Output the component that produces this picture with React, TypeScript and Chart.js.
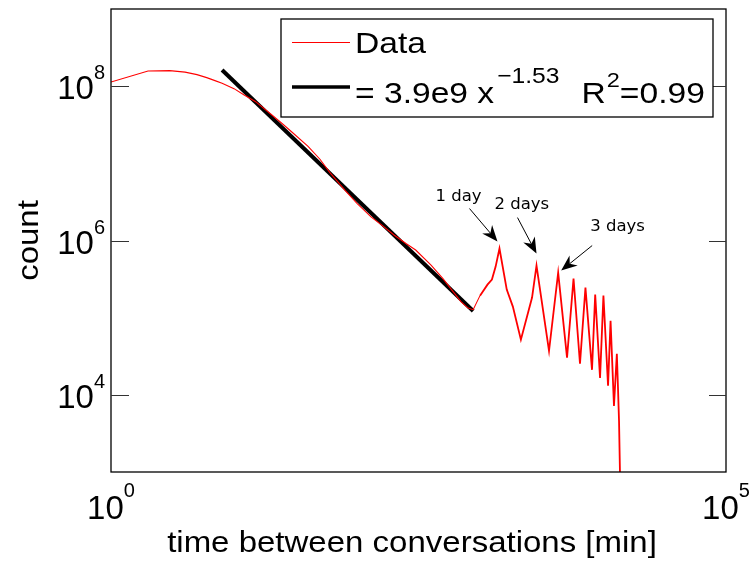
import React, { useEffect, useRef } from "react";
import { Chart, registerables } from "chart.js";

Chart.register(...registerables);

// Inter-conversation time distribution (minutes) and observed counts
const MINUTES = [
  1, 2, 3, 4, 5, 6, 7, 8, 10, 12, 15, 20, 25, 30, 40, 50, 60, 80, 100, 130, 160,
  200, 250, 300, 400, 500, 600, 700, 800, 880, 1000, 1150, 1250, 1340, 1440,
  1650, 1850, 2150, 2650, 2880, 3640, 4320, 5100, 5760, 6500, 7200, 8140, 8640,
  9460, 10080, 10990, 11520, 12280, 12960, 13240, 13500, 14100,
];
const COUNTS = [
  1.13e8, 1.57e8, 1.59e8, 1.52e8, 1.41e8, 1.29e8, 1.18e8, 1.09e8, 9.29e7,
  7.76e7, 6.3e7, 4.33e7, 3.21e7, 2.49e7, 1.66e7, 1.13e7, 7.64e6, 4.46e6,
  3.03e6, 2.02e6, 1.57e6, 1.18e6, 9.14e5, 7.53e5, 4.81e5, 3.21e5, 2.21e5,
  1.61e5, 1.33e5, 1.27e5, 1.93e5, 2.68e5, 3.12e5, 4.59e5, 7.87e5, 2.31e5,
  1.39e5, 5.18e4, 1.82e5, 4.73e5, 3.72e4, 3.84e5, 3.03e4, 3.21e5, 2.53e4,
  2.45e5, 2.11e4, 1.99e5, 1.66e4, 1.93e5, 1.31e4, 9.14e4, 7.19e3, 3.4e4,
  1.23e4, 4.59e3, 100,
];

// Power-law fit: count = FIT_COEF * t^FIT_EXP over FIT_RANGE
const FIT_COEF = 3.9e9;
const FIT_EXP = -1.53;
const FIT_R2 = 0.99;
const FIT_RANGE = [8, 880];

// Axis ticks
const X_TICK_EXPONENTS = [0, 5];
const Y_TICK_EXPONENTS = [4, 6, 8];

// Annotated periodic peaks
const PEAK_LABELS = ["1 day", "2 days", "3 days"];
const PEAK_MINUTES = [1440, 2880, 4320];

const SERIES_LABEL = "Data";
const X_TITLE = "time between conversations [min]";
const Y_TITLE = "count";

const FONT = '"Liberation Sans", Arial, Helvetica, sans-serif';
const NOTE_FONT = '"DejaVu Sans", "Liberation Sans", sans-serif';

// arrow placement per annotation (pixels relative to the peak point)
const ARROW_STYLE = [
  { tip: [-2, -7], tail: [-28, -33], text: [-62, -41] },
  { tip: [0, -12], tail: [-19, -36], text: [-42, -44.5] },
  { tip: [3, -2], tail: [31, -25], text: [29, -39.5] },
];

function drawText(
  ctx: CanvasRenderingContext2D,
  s: string,
  x: number,
  y: number,
  size: number,
  sx = 1,
  align: CanvasTextAlign = "left",
  family = FONT
): number {
  ctx.save();
  ctx.font = `${size}px ${family}`;
  const w = ctx.measureText(s).width * sx;
  let x0 = x;
  if (align === "center") x0 = x - w / 2;
  else if (align === "right") x0 = x - w;
  ctx.translate(x0, y);
  ctx.scale(sx, 1);
  ctx.textAlign = "left";
  ctx.textBaseline = "alphabetic";
  ctx.fillText(s, 0, 0);
  ctx.restore();
  return w;
}

function measure(ctx: CanvasRenderingContext2D, s: string, size: number, sx = 1) {
  ctx.save();
  ctx.font = `${size}px ${FONT}`;
  const w = ctx.measureText(s).width * sx;
  ctx.restore();
  return w;
}

function drawArrow(
  ctx: CanvasRenderingContext2D,
  x0: number,
  y0: number,
  x1: number,
  y1: number
) {
  const dx = x1 - x0;
  const dy = y1 - y0;
  const len = Math.hypot(dx, dy);
  const ux = dx / len;
  const uy = dy / len;
  const px = -uy;
  const py = ux;
  const L = 16;
  const W = 6.5;
  const notch = 11;
  ctx.save();
  ctx.strokeStyle = "#000";
  ctx.fillStyle = "#000";
  ctx.lineWidth = 1;
  ctx.beginPath();
  ctx.moveTo(x0, y0);
  ctx.lineTo(x1 - ux * notch, y1 - uy * notch);
  ctx.stroke();
  ctx.beginPath();
  ctx.moveTo(x1, y1);
  ctx.lineTo(x1 - ux * L + px * W, y1 - uy * L + py * W);
  ctx.lineTo(x1 - ux * notch, y1 - uy * notch);
  ctx.lineTo(x1 - ux * L - px * W, y1 - uy * L - py * W);
  ctx.closePath();
  ctx.fill();
  ctx.restore();
}

const decorPlugin = {
  id: "decor",
  afterDatasetsDraw(chart: any) {
    const ctx: CanvasRenderingContext2D = chart.ctx;
    const { left, right, top, bottom } = chart.chartArea;
    const xs = chart.scales.x;
    const ys = chart.scales.y;

    ctx.save();
    ctx.fillStyle = "#000";

    // axes box
    ctx.strokeStyle = "#000";
    ctx.lineWidth = 1.3;
    ctx.strokeRect(left, top, right - left, bottom - top);

    // inward y ticks on both sides
    ctx.strokeStyle = "#333";
    ctx.lineWidth = 1;
    Y_TICK_EXPONENTS.forEach((e) => {
      const y = Math.round(ys.getPixelForValue(Math.pow(10, e))) + 0.5;
      ctx.beginPath();
      ctx.moveTo(left, y);
      ctx.lineTo(left + 18, y);
      ctx.moveTo(right - 17, y);
      ctx.lineTo(right, y);
      ctx.stroke();
    });

    // y tick labels 10^n
    Y_TICK_EXPONENTS.forEach((e) => {
      const y = ys.getPixelForValue(Math.pow(10, e));
      const sup = String(e);
      const wSup = measure(ctx, sup, 20);
      const wBase = measure(ctx, "10", 33);
      const xr = left - 6;
      drawText(ctx, "10", xr - wSup - wBase, y + 13, 33);
      drawText(ctx, sup, xr - wSup, y - 7, 20);
    });

    // x tick labels 10^n
    X_TICK_EXPONENTS.forEach((e) => {
      const x = xs.getPixelForValue(Math.pow(10, e));
      const sup = String(e);
      const wSup = measure(ctx, sup, 20);
      const wBase = measure(ctx, "10", 33);
      const x0 = x - (wSup + wBase) / 2;
      drawText(ctx, "10", x0, bottom + 47, 33);
      drawText(ctx, sup, x0 + wBase, bottom + 25, 20);
    });

    // axis titles
    drawText(ctx, X_TITLE, 412, bottom + 80, 30, 1.1, "center");
    ctx.save();
    ctx.translate(38, (top + bottom) / 2);
    ctx.rotate(-Math.PI / 2);
    drawText(ctx, Y_TITLE, 0, 0, 30, 1.1, "center");
    ctx.restore();

    // legend
    const lx = 281;
    const ly = 19;
    const lw = 432;
    const lh = 98;
    ctx.fillStyle = "#fff";
    ctx.fillRect(lx, ly, lw, lh);
    ctx.strokeStyle = "#000";
    ctx.lineWidth = 1.3;
    ctx.strokeRect(lx, ly, lw, lh);
    const ds0 = chart.data.datasets[0];
    const ds1 = chart.data.datasets[1];
    ctx.strokeStyle = ds0.borderColor;
    ctx.lineWidth = 1;
    ctx.beginPath();
    ctx.moveTo(292, 42.5);
    ctx.lineTo(350, 42.5);
    ctx.stroke();
    ctx.strokeStyle = ds1.borderColor;
    ctx.lineWidth = 3.5;
    ctx.beginPath();
    ctx.moveTo(292, 87);
    ctx.lineTo(350, 87);
    ctx.stroke();
    ctx.fillStyle = "#000";
    drawText(ctx, ds0.label, 355, 53, 30, 1.12);
    let cx = 355;
    cx += drawText(ctx, `= ${FIT_COEF.toExponential(1).replace("+", "")} x`, cx, 103, 30, 1.12);
    cx += 3;
    cx += drawText(ctx, `\u2212${Math.abs(FIT_EXP).toFixed(2)}`, cx, 83, 22, 1.12);
    cx += 22;
    cx += drawText(ctx, "R", cx, 103, 30, 1.12);
    cx += 1;
    cx += drawText(ctx, "2", cx, 87, 21, 1.12);
    drawText(ctx, `=${FIT_R2.toFixed(2)}`, cx, 103, 30, 1.12);

    // peak annotations
    PEAK_LABELS.forEach((label, i) => {
      const idx = MINUTES.indexOf(PEAK_MINUTES[i]);
      const px = xs.getPixelForValue(MINUTES[idx]);
      const py = ys.getPixelForValue(COUNTS[idx]);
      const st = ARROW_STYLE[i];
      const tx = px + st.tip[0];
      const ty = py + st.tip[1];
      drawArrow(ctx, tx + st.tail[0], ty + st.tail[1], tx, ty);
      drawText(ctx, label, tx + st.text[0], ty + st.text[1], 16.5, 1, "left", NOTE_FONT);
    });

    ctx.restore();
  },
};

export default function App() {
  const ref = useRef<HTMLCanvasElement | null>(null);

  useEffect(() => {
    if (!ref.current) return;
    const dataPts = MINUTES.map((m, i) => ({ x: m, y: COUNTS[i] }));
    const fitPts = FIT_RANGE.map((m) => ({ x: m, y: FIT_COEF * Math.pow(m, FIT_EXP) }));
    const chart = new Chart(ref.current, {
      type: "scatter",
      data: {
        datasets: [
          {
            label: SERIES_LABEL,
            data: dataPts,
            showLine: true,
            borderColor: "#ff0000",
            backgroundColor: "#ff0000",
            borderWidth: 1.2,
            pointRadius: 0,
            tension: 0,
            segment: {
              // the dense periodic part reads heavier than the smooth decay
              borderWidth: (c: any) => (c.p0.parsed.x >= 1000 ? 1.8 : 1.1),
            },
          },
          {
            label: "fit",
            data: fitPts,
            showLine: true,
            borderColor: "#000000",
            backgroundColor: "#000000",
            borderWidth: 4,
            pointRadius: 0,
          },
        ],
      },
      options: {
        animation: false,
        responsive: false,
        devicePixelRatio: 1,
        layout: { padding: { left: 111, top: 9, right: 30, bottom: 91 } },
        scales: {
          x: { type: "logarithmic", min: 1, max: 1e5, display: false },
          y: { type: "logarithmic", min: 1e3, max: 1e9, display: false },
        },
        plugins: {
          legend: { display: false },
          tooltip: { enabled: false },
        },
      },
      plugins: [decorPlugin],
    });
    return () => chart.destroy();
  }, []);

  return (
    <div
      style={{
        position: "fixed",
        left: 0,
        top: 0,
        width: 756,
        height: 563,
        background: "#fff",
      }}
    >
      <canvas ref={ref} width={756} height={563} style={{ display: "block" }} />
    </div>
  );
}
